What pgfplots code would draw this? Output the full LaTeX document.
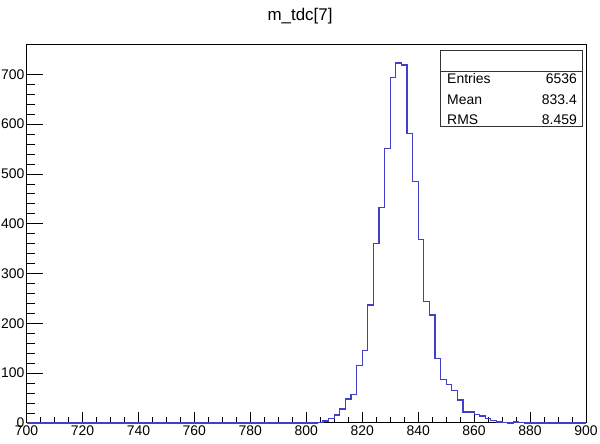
\documentclass[border=0pt]{standalone}
\usepackage{fontspec}
\setmainfont{Liberation Sans}
\usepackage{pgfplots}
\usepackage{pgfplotstable}
\pgfplotsset{compat=1.18}
\definecolor{histblue}{RGB}{64,64,200}
\pgfplotstableread{
x y
700 0
804 1
806 4
808 9
810 16
812 28
814 48
816 58
818 115
820 146
822 237
824 361
826 433
828 551
830 693
832 723
834 719
836 582
838 485
840 368
842 244
844 217
846 129
848 87
850 78
852 66
854 46
856 22
858 22
860 17
862 14
864 9
866 5
868 2
870 1
872 0
874 2
876 1
878 0
900 0
}\histdata
\begin{document}
\begin{tikzpicture}[x=1bp,y=1bp]
\path[use as bounding box] (0,0) rectangle (600,444);
\begin{axis}[
  at={(26.5bp,21bp)}, anchor=south west,
  scale only axis, width=559.5bp, height=378bp,
  xmin=700, xmax=900, ymin=0, ymax=759,
  xtick={700,720,...,900}, ytick={0,100,...,700},
  minor x tick num=3, minor y tick num=4,
  tick align=inside, xtick pos=bottom, ytick pos=left,
  xtick style={/pgfplots/major tick length=11.3bp,/pgfplots/minor tick length=5.6bp, black, line width=0.8bp},
  ytick style={/pgfplots/major tick length=16.8bp,/pgfplots/minor tick length=8.4bp, black, line width=0.8bp},
  axis line style={line width=1bp, black},
  /pgf/number format/assume math mode=true,
  /pgf/number format/1000 sep={},
  tick label style={font=\fontsize{14}{16}\selectfont},
  xticklabel style={inner sep=2.5bp},
  yticklabel style={inner sep=2bp},
  clip=false,
]
\addplot[const plot, draw=histblue, line width=1.2bp, line join=miter, mark=none] table[x=x,y=y] {\histdata};
\end{axis}
\node[font=\fontsize{17}{20}\selectfont] at (300,428) {m\_tdc[7]};
\draw[line width=1bp, black!80] (440,317) rectangle (582,393);
\draw[line width=0.8bp, black!80] (440,373) -- (582,373);
\begin{scope}[every node/.style={font=\fontsize{14}{16}\selectfont, inner sep=0pt}]
\node[anchor=base west] at (447,360) {Entries};
\node[anchor=base west] at (447,339) {Mean};
\node[anchor=base west] at (447,319) {RMS};
\node[anchor=base east] at (577,360) {6536};
\node[anchor=base east] at (577,339) {833.4};
\node[anchor=base east] at (577,319) {8.459};
\end{scope}
\end{tikzpicture}
\end{document}
